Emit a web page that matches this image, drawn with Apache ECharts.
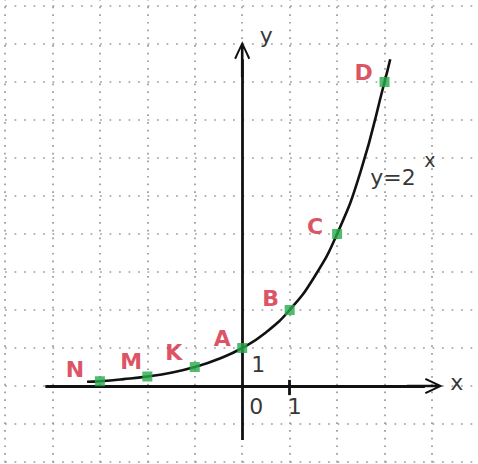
<!DOCTYPE html>
<html><head><meta charset="utf-8">
<script src="https://cdn.jsdelivr.net/npm/echarts@6/dist/echarts.min.js"></script>
<style>html,body{margin:0;padding:0;background:#fff}#c{width:478px;height:464px}</style>
</head><body><div id="c"></div>
<script>
// ---- data ----
const pointNames = ['N', 'M', 'K', 'A', 'B', 'C', 'D'];
const pointX = [-3, -2, -1, 0, 1, 2, 3];
const pointY = [0.125, 0.25, 0.5, 1, 2, 4, 8];
const curveX = [-3.27, -3, -2.5, -2, -1.5, -1, -0.5, 0, 0.5, 1, 1.5, 2, 2.5, 3, 3.12];
const curveY = [0.11, 0.125, 0.18, 0.25, 0.35, 0.5, 0.71, 1, 1.41, 2, 2.83, 4, 5.66, 8, 8.6];
const xAxisExtent = [-4.15, 3.85];
const yAxisExtent = [-1.42, 8.6];
const xTickValues = [0, 1];
const xTickLabels = ['0', '1'];
const yTickValues = [1];
const yTickLabels = ['1'];
const formulaMain = 'y=2';
const formulaExp = 'x';
const formulaPos = [3.22, 5.5];
const axisNames = ['x', 'y'];

// ---- styles ----
const RED = '#d3263a';
const GREEN = '#27aa4a';
const INK = '#000';
const pointLabelOffsets = [[-25, -12], [-16, -15], [-21, -15], [-20, -10], [-19, -12], [-22, -8], [-21, -10]];
const arrowPath = 'path://M0,17 L8,0 L16,17 L14.2,18 L9.3,7.2 L9.3,36 L6.7,36 L6.7,7.2 L1.8,18 Z';

const chart = echarts.init(document.getElementById('c'), null, { renderer: 'svg' });

const pointData = pointNames.map((n, i) => ({
  value: [pointX[i], pointY[i]], name: n,
  label: { offset: pointLabelOffsets[i] }
}));

const textItems = [];
xTickValues.forEach((v, i) => textItems.push({ value: [v, 0], label: { formatter: xTickLabels[i], offset: [i === 0 ? 14 : 5, 20] } }));
yTickValues.forEach((v, i) => textItems.push({ value: [0, v], label: { formatter: yTickLabels[i], offset: [16, 16] } }));
textItems.push({ value: [xAxisExtent[1], 0], label: { formatter: axisNames[0], offset: [32, -4] } });
textItems.push({ value: [0, yAxisExtent[1]], label: { formatter: axisNames[1], offset: [24, -24] } });
textItems.push({ value: formulaPos, label: { formatter: formulaMain, offset: [-2, 0] } });
textItems.push({ value: formulaPos, label: { formatter: formulaExp, fontSize: 19, offset: [35, -17] } });

chart.setOption({
  animation: false,
  backgroundColor: '#fff',
  grid: { left: -42.44, top: -32, width: 569.3, height: 532, outerBoundsMode: 'none', containLabel: false },
  xAxis: {
    type: 'value', min: -6, max: 6, interval: 1,
    axisLine: { show: false }, axisTick: { show: false }, axisLabel: { show: false },
    splitLine: { show: true, lineStyle: { color: '#999', width: 1.7, type: [1.7, 6] } }
  },
  yAxis: {
    type: 'value', min: -3, max: 11, interval: 1,
    axisLine: { show: false }, axisTick: { show: false }, axisLabel: { show: false },
    splitLine: { show: true, lineStyle: { color: '#999', width: 1.7, type: [1.7, 7.8] } }
  },
  series: [
    {
      type: 'line', data: curveX.map((x, i) => [x, curveY[i]]),
      smooth: true, showSymbol: false, silent: true,
      lineStyle: { color: '#111', width: 2.6 },
      markLine: {
        silent: true, animation: false,
        symbol: ['none', arrowPath], symbolSize: [16, 36],
        label: { show: false },
        lineStyle: { color: '#111', width: 2.8, type: 'solid' },
        data: [
          [{ coord: [xAxisExtent[0], 0] }, { coord: [xAxisExtent[1], 0] }],
          [{ coord: [0, yAxisExtent[0]] }, { coord: [0, yAxisExtent[1]] }],
          [{ coord: [1, 0.16], symbol: 'none' }, { coord: [1, -0.24], symbol: 'none' }]
        ]
      },
      z: 3
    },
    {
      type: 'scatter', data: pointData, symbol: 'rect', symbolSize: 10,
      itemStyle: { color: GREEN },
      label: {
        show: true, position: 'inside', formatter: '{b}',
        color: RED, fontSize: 22, fontWeight: 'bold', fontFamily: 'DejaVu Sans'
      },
      z: 5
    },
    {
      type: 'scatter', data: textItems, symbolSize: 0, silent: true,
      label: {
        show: true, position: 'inside', color: INK, fontSize: 22,
        fontFamily: 'DejaVu Sans'
      },
      z: 6
    }
  ]
});
</script></body></html>
